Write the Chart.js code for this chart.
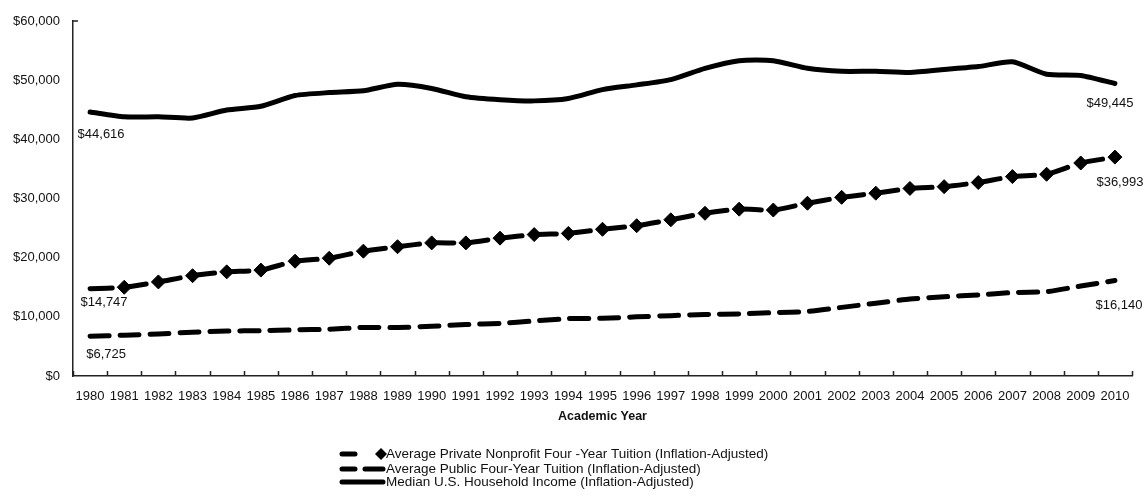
<!DOCTYPE html>
<html>
<head>
<meta charset="utf-8">
<script src="https://cdn.jsdelivr.net/npm/chart.js@4/dist/chart.umd.min.js"></script>
<style>
  html, body { margin: 0; padding: 0; background: #fff; }
  #wrap { width: 1145px; height: 498px; position: relative; }
</style>
</head>
<body>
<div id="wrap"><canvas id="c" width="1145" height="498"></canvas></div>
<script>
// Academic years on the category axis
const years = ['1980','1981','1982','1983','1984','1985','1986','1987','1988','1989','1990',
  '1991','1992','1993','1994','1995','1996','1997','1998','1999','2000',
  '2001','2002','2003','2004','2005','2006','2007','2008','2009','2010'];

// Average private nonprofit four-year tuition, inflation-adjusted dollars
const privateTuition = [14747, 15000, 15900, 16950, 17600, 17900, 19400, 19900, 21100, 21850, 22500,
  22500, 23300, 23900, 24100, 24800, 25400, 26400, 27500, 28200, 28050,
  29200, 30200, 30900, 31700, 32000, 32700, 33700, 34100, 36000, 36993];

// Average public four-year tuition, inflation-adjusted dollars
const publicTuition = [6725, 6900, 7100, 7400, 7600, 7650, 7800, 7900, 8200, 8200, 8400,
  8700, 8900, 9300, 9700, 9750, 10000, 10200, 10400, 10500, 10700,
  10900, 11600, 12300, 13000, 13400, 13700, 14100, 14250, 15200, 16140];

// Median U.S. household income, inflation-adjusted dollars
const medianIncome = [44616, 43800, 43800, 43600, 44950, 45600, 47400, 47900, 48200, 49300, 48600,
  47200, 46700, 46500, 46900, 48400, 49200, 50100, 52000, 53300, 53300,
  52000, 51500, 51500, 51300, 51800, 52300, 53100, 51000, 50800, 49445];

const seriesNames = [
  'Average Private Nonprofit Four -Year Tuition (Inflation-Adjusted)',
  'Average Public Four-Year Tuition (Inflation-Adjusted)',
  'Median U.S. Household Income (Inflation-Adjusted)'
];

const yTicks = [0, 10000, 20000, 30000, 40000, 50000, 60000];

const FONT = '"Liberation Sans", Arial, sans-serif';
const money = v => '$' + Number(v).toLocaleString('en-US');

// Diamonds on every private-tuition point except the first year
const privateRadius = years.map((y, i) => (i === 0 ? 0 : 7));

// Value labels at both ends of each series: [datasetIndex, pointIndex, dx, dy]
const endLabels = [
  [2, 0, 11, 22], [2, 30, -5, 20],
  [0, 0, 14, 14], [0, 30, 5, 25],
  [1, 0, 16, 18], [1, 30, 4, 25]
];

const labelPlugin = {
  id: 'endLabels',
  afterDatasetsDraw(chart) {
    const ctx = chart.ctx;
    ctx.save();
    ctx.font = '13px ' + FONT;
    ctx.fillStyle = '#111';
    ctx.textAlign = 'center';
    ctx.textBaseline = 'middle';
    endLabels.forEach(([d, i, dx, dy]) => {
      const pt = chart.getDatasetMeta(d).data[i];
      const v = chart.data.datasets[d].data[i];
      ctx.fillText(money(v), pt.x + dx, pt.y + dy);
    });
    ctx.restore();
  }
};

// Inward tick marks on the category axis and at the top of the value axis
const tickPlugin = {
  id: 'innerTicks',
  afterDraw(chart) {
    const ctx = chart.ctx;
    const x = chart.scales.x, y = chart.scales.y;
    const base = y.getPixelForValue(0);
    ctx.save();
    ctx.strokeStyle = '#222';
    ctx.lineWidth = 1.5;
    ctx.beginPath();
    for (let i = 0; i <= years.length; i++) {
      const px = Math.round(x.getPixelForValue(i - 0.5)) + 0.5;
      ctx.moveTo(px, base);
      ctx.lineTo(px, base - 5);
    }
    const top = y.getPixelForValue(60000);
    ctx.moveTo(x.left, top);
    ctx.lineTo(x.left + 5, top);
    ctx.stroke();
    ctx.restore();
  }
};

// Legend stacked below the axis title
const legendPlugin = {
  id: 'stackLegend',
  afterDraw(chart) {
    const ctx = chart.ctx;
    const rows = [454, 469, 482];
    const x0 = 340, x1 = 385, tx = 386;
    ctx.save();
    ctx.strokeStyle = '#000';
    ctx.fillStyle = '#000';
    ctx.lineWidth = 5;
    ctx.lineCap = 'round';
    // private tuition: a dash and a diamond
    ctx.beginPath();
    ctx.moveTo(x0 + 2, rows[0]); ctx.lineTo(x0 + 15, rows[0]);
    ctx.stroke();
    ctx.beginPath();
    const cx = 381, cy = rows[0], r = 6;
    ctx.moveTo(cx, cy - r); ctx.lineTo(cx + r, cy); ctx.lineTo(cx, cy + r); ctx.lineTo(cx - r, cy);
    ctx.closePath(); ctx.fill();
    // public tuition: two dashes
    ctx.beginPath();
    ctx.moveTo(x0 + 2, rows[1]); ctx.lineTo(x0 + 15, rows[1]);
    ctx.moveTo(x0 + 25, rows[1]); ctx.lineTo(x1 - 2, rows[1]);
    ctx.stroke();
    // household income: solid line
    ctx.beginPath();
    ctx.moveTo(x0 + 2, rows[2]); ctx.lineTo(x1 - 2, rows[2]);
    ctx.stroke();
    ctx.font = '13.5px ' + FONT;
    ctx.fillStyle = '#111';
    ctx.textAlign = 'left';
    ctx.textBaseline = 'middle';
    seriesNames.forEach((n, i) => ctx.fillText(n, tx, rows[i] + 0.5));
    ctx.restore();
  }
};

new Chart(document.getElementById('c'), {
  type: 'line',
  data: {
    labels: years,
    datasets: [
      {
        label: seriesNames[0],
        data: privateTuition,
        borderColor: '#000',
        backgroundColor: '#000',
        borderWidth: 5,
        borderCapStyle: 'round',
        borderDash: [22, 12],
        tension: 0.2,
        pointStyle: 'rectRot',
        pointRadius: privateRadius,
        pointBorderWidth: 1,
        pointBackgroundColor: '#000',
        pointBorderColor: '#000',
        // stroke each segment separately so the dash restarts at every point
        segment: { borderDashOffset: c => (c.p0DataIndex % 2) * 0.001 }
      },
      {
        label: seriesNames[1],
        data: publicTuition,
        borderColor: '#000',
        borderWidth: 5,
        borderCapStyle: 'round',
        borderDash: [19, 11],
        tension: 0.2,
        pointRadius: 0
      },
      {
        label: seriesNames[2],
        data: medianIncome,
        borderColor: '#000',
        borderWidth: 5,
        borderCapStyle: 'round',
        borderJoinStyle: 'round',
        tension: 0.2,
        pointRadius: 0
      }
    ]
  },
  options: {
    responsive: false,
    animation: false,
    events: [],
    layout: { padding: { top: 21, right: 13, bottom: 74, left: 0 } },
    plugins: { legend: { display: false }, tooltip: { enabled: false } },
    scales: {
      x: {
        offset: true,
        grid: { display: false, drawTicks: false },
        border: { display: true, color: '#222', width: 1.5 },
        ticks: { color: '#111', font: { family: FONT, size: 13 }, padding: 13, maxRotation: 0, autoSkip: false },
        title: { display: true, text: 'Academic Year', color: '#111', font: { family: FONT, size: 12.5, weight: 'bold' }, padding: { top: 0, bottom: 0 } },
        afterFit: s => { s.height = 48; }
      },
      y: {
        min: 0,
        max: 60000,
        afterBuildTicks: s => { s.ticks = yTicks.map(v => ({ value: v })); },
        grid: { display: false, drawTicks: false },
        border: { display: true, color: '#222', width: 1.5 },
        ticks: { color: '#111', font: { family: FONT, size: 13 }, padding: 13, callback: v => money(v) },
        afterFit: s => { s.width = 73; }
      }
    }
  },
  plugins: [labelPlugin, tickPlugin, legendPlugin]
});
</script>
</body>
</html>
